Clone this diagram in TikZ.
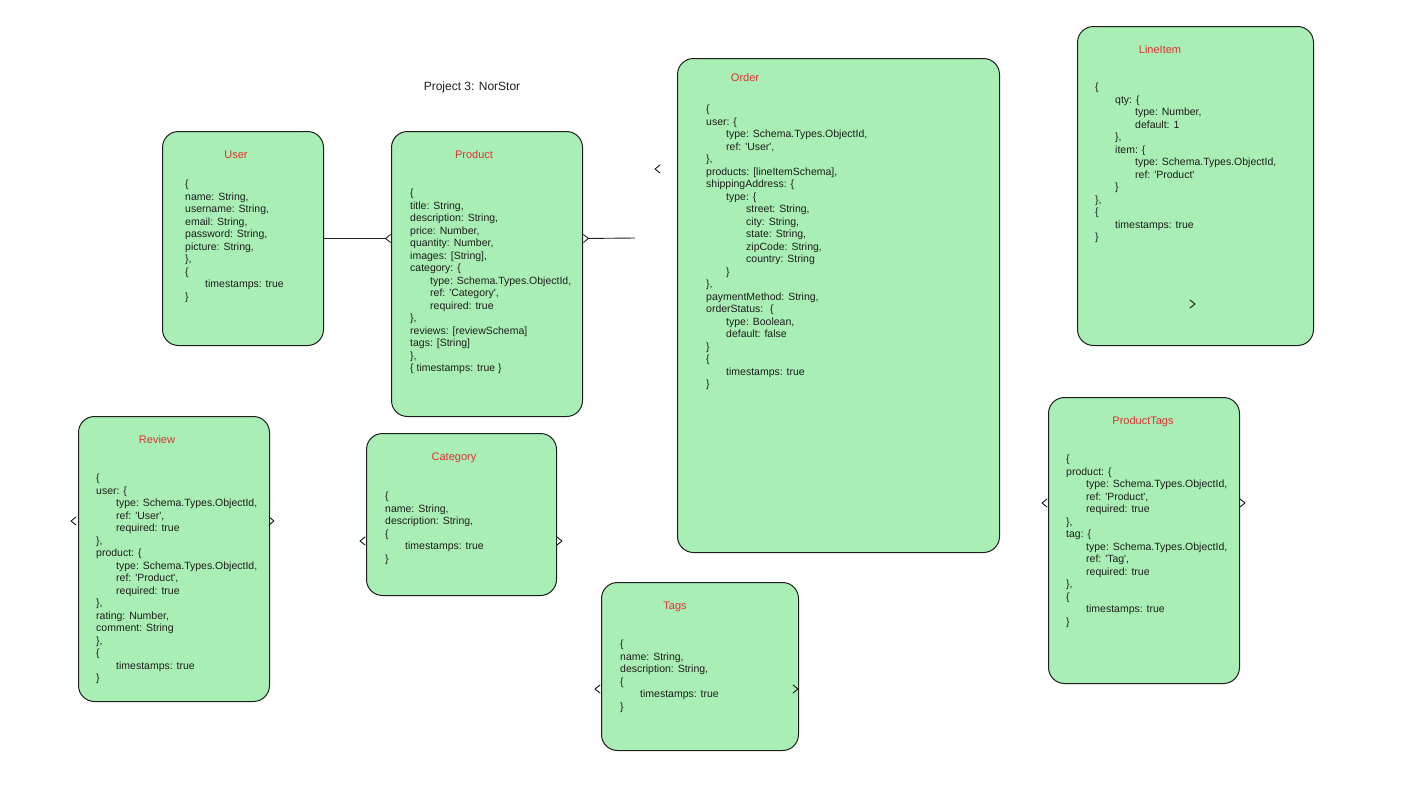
\documentclass[tikz,border=0pt]{standalone}
\usepackage{fontspec}
\setmainfont{Liberation Sans}
\usetikzlibrary{arrows.meta}

\definecolor{boxfill}{HTML}{A9EEB4}
\definecolor{ink}{HTML}{1E1E1E}
\definecolor{titlered}{HTML}{E03131}

\newcommand\lvl{\hspace*{20pt}}
\newcommand\sq[1]{\textquotesingle#1\textquotesingle}

\tikzset{
  entity/.style={draw=ink, fill=boxfill, line width=1pt, rounded corners=16pt, anchor=north west, inner sep=0pt},
  heading/.style={text=titlered, font=\fontsize{11}{13}\selectfont, inner sep=0pt},
  fields/.style={anchor=north west, align=left, inner sep=0pt, text=ink, font=\fontsize{10.5}{12.5}\selectfont},
  link/.style={draw=ink, line width=0.9pt},
  chev/.style={draw=ink, line width=0.9pt, line join=round, line cap=round},
  lchev/.pic={\draw[chev] (3,-4) -- (-2,0) -- (3,4);},
  rchev/.pic={\draw[chev] (-3,-4) -- (2,0) -- (-3,4);},
  barb/.tip={Straight Barb[length=5pt,width=8pt]}
}

\begin{document}
\begin{tikzpicture}[x=1pt, y=-1pt]
        \useasboundingbox (0,0) rectangle (1410,795);

        \node[text=ink, inner sep=0pt, font=\fontsize{12}{14}\selectfont] (project) at (472,87) {Project 3: NorStor};

        % boxes
        \node[entity, minimum width=161pt, minimum height=214pt] (user) at (162,131) {};
        \node[entity, minimum width=191pt, minimum height=285pt] (product) at (391,131) {};
        \node[entity, minimum width=322pt, minimum height=494pt] (order) at (677,58) {};
        \node[entity, minimum width=236pt, minimum height=319pt] (lineitem) at (1077,26) {};
        \node[entity, minimum width=191pt, minimum height=285pt] (review) at (78,416) {};
        \node[entity, minimum width=190pt, minimum height=162pt] (category) at (366,433) {};
        \node[entity, minimum width=197pt, minimum height=168pt] (tags) at (601,582) {};
        \node[entity, minimum width=191pt, minimum height=286pt] (producttags) at (1048,397) {};

        % headings
        \node[heading] (usertitle) at (236,155) {User};
        \node[heading] (producttitle) at (474,155) {Product};
        \node[heading] (ordertitle) at (745,78) {Order};
        \node[heading] (lineitemtitle) at (1160,50) {LineItem};
        \node[heading] (reviewtitle) at (157,440) {Review};
        \node[heading] (categorytitle) at (454,458) {Category};
        \node[heading] (tagstitle) at (675,607) {Tags};
        \node[heading] (producttagstitle) at (1143,422) {ProductTags};

        % schemas
        \node[fields] (userfields) at (185,180) {\{\\ name: String,\\ username: String,\\ email: String,\\ password: String,\\ picture: String,\\ \},\\ \{\\ \lvl timestamps: true\\ \}};
        \node[fields] (productfields) at (410,189) {\{\\ title: String,\\ description: String,\\ price: Number,\\ quantity: Number,\\ images: [String],\\ category: \{\\ \lvl type: Schema.Types.ObjectId,\\ \lvl ref: \sq{Category},\\ \lvl required: true\\ \},\\ reviews: [reviewSchema]\\ tags: [String]\\ \},\\ \{ timestamps: true \}};
        \node[fields] (orderfields) at (706,105) {\{\\ user: \{\\ \lvl type: Schema.Types.ObjectId,\\ \lvl ref: \sq{User},\\ \},\\ products: [lineItemSchema],\\ shippingAddress: \{\\ \lvl type: \{\\ \lvl\lvl street: String,\\ \lvl\lvl city: String,\\ \lvl\lvl state: String,\\ \lvl\lvl zipCode: String,\\ \lvl\lvl country: String\\ \lvl \}\\ \},\\ paymentMethod: String,\\ orderStatus: \ \{\\ \lvl type: Boolean,\\ \lvl default: false\\ \}\\ \{\\ \lvl timestamps: true\\ \}};
        \node[fields] (lineitemfields) at (1095,83) {\{\\ \lvl qty: \{\\ \lvl\lvl type: Number,\\ \lvl\lvl default: 1\\ \lvl \},\\ \lvl item: \{\\ \lvl\lvl type: Schema.Types.ObjectId,\\ \lvl\lvl ref: \sq{Product}\\ \lvl \}\\ \},\\ \{\\ \lvl timestamps: true\\ \}};
        \node[fields] (reviewfields) at (96,474) {\{\\ user: \{\\ \lvl type: Schema.Types.ObjectId,\\ \lvl ref: \sq{User},\\ \lvl required: true\\ \},\\ product: \{\\ \lvl type: Schema.Types.ObjectId,\\ \lvl ref: \sq{Product},\\ \lvl required: true\\ \},\\ rating: Number,\\ comment: String\\ \},\\ \{\\ \lvl timestamps: true\\ \}};
        \node[fields] (categoryfields) at (385,492) {\{\\ name: String,\\ description: String,\\ \{\\ \lvl timestamps: true\\ \}};
        \node[fields] (tagsfields) at (620,640) {\{\\ name: String,\\ description: String,\\ \{\\ \lvl timestamps: true\\ \}};
        \node[fields] (producttagsfields) at (1066,455) {\{\\ product: \{\\ \lvl type: Schema.Types.ObjectId,\\ \lvl ref: \sq{Product},\\ \lvl required: true\\ \},\\ tag: \{\\ \lvl type: Schema.Types.ObjectId,\\ \lvl ref: \sq{Tag},\\ \lvl required: true\\ \},\\ \{\\ \lvl timestamps: true\\ \}};

        % links
        \coordinate (prodout) at (635,238);
        \draw[link, -{barb[reversed]}] (user.east) -- (user.east -| product.west);
        \draw[link, {barb[reversed]}-] (product.east |- user.east) -- (prodout);

        % loose ends
        \pic at (657,169) {lchev};
        \pic at (1193,304) {rchev};
        \pic at (73,521) {lchev};
        \pic at (272,521) {rchev};
        \pic at (362,541) {lchev};
        \pic at (560,541) {rchev};
        \pic at (597,689) {lchev};
        \pic at (796,689) {rchev};
        \pic at (1044,503) {lchev};
        \pic at (1243,503) {rchev};
\end{tikzpicture}
\end{document}
